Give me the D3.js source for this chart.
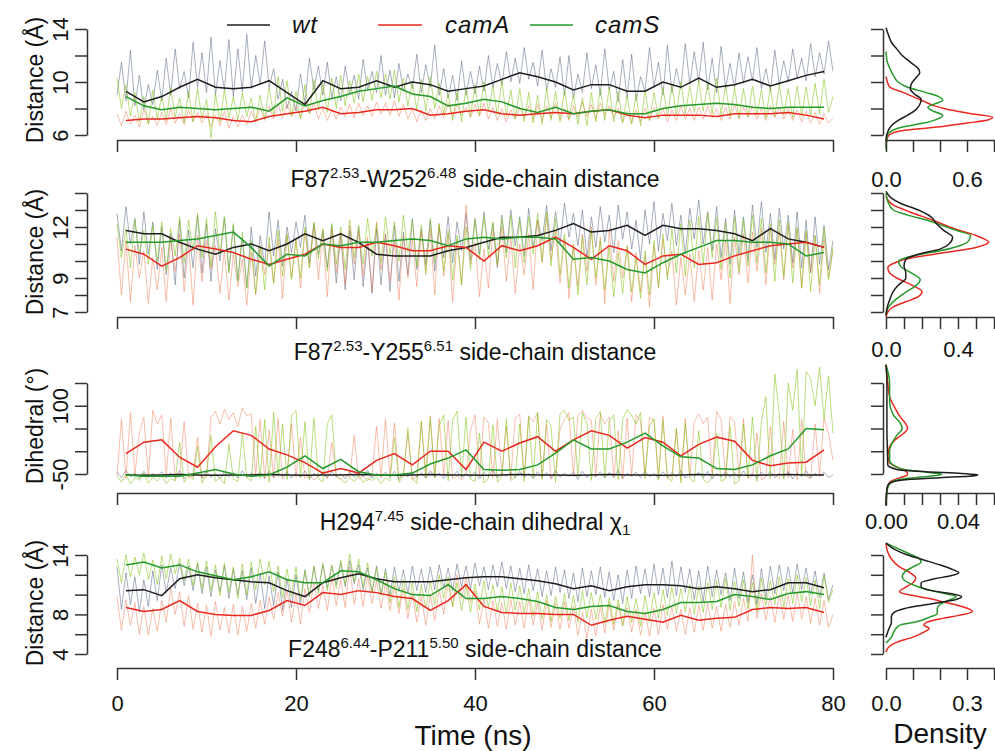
<!DOCTYPE html>
<html>
<head>
<meta charset="utf-8">
<script src="https://cdnjs.cloudflare.com/ajax/libs/d3/7.8.5/d3.min.js"></script>
<style>
  body { margin: 0; background: #fff; }
  text { font-family: "Liberation Sans", Arial, Helvetica, sans-serif; fill: #111; }
</style>
</head>
<body>
<div id="chart"></div>
<script>
// ---- data ----
const seriesNames = ["wt", "camA", "camS"];
const timeTicks = [0, 20, 40, 60, 80];
const rawStep = 0.5; // ns between raw samples
const smoothT = [1,3,5,7,9,11,13,15,17,19,21,23,25,27,29,31,33,35,37,39,41,43,45,47,49,51,53,55,57,59,61,63,65,67,69,71,73,75,77,79];

// F87-W252 distance
const wtDist1Raw = [9.0,11.5,8.6,12.4,8.2,10.5,7.9,9.8,8.3,10.9, 8.6,11.8,9.0,12.5,9.5,10.8,8.8,13.0,9.6,12.2,
  9.2,13.4,9.0,11.6,9.4,13.2,8.9,12.5,9.3,13.6, 9.5,12.0,9.8,13.1,9.6,11.0,8.7,10.2,8.0,9.3,
  7.8,10.6,8.4,11.8,9.4,11.2,9.0,11.5,8.8,10.4, 8.6,11.2,9.1,10.5,8.7,11.7,9.4,10.8,9.2,12.0,
  9.0,10.9,8.8,11.4,9.3,10.6,9.5,12.1,9.2,11.3, 9.6,12.8,9.0,11.0,8.8,10.5,8.6,11.6,9.0,10.8,
  9.1,11.2,9.3,12.0,9.6,11.4,9.8,12.3,10.0,11.8, 9.9,12.6,10.2,11.5,9.7,12.4,9.4,11.0,9.6,11.9,
  9.0,12.0,8.8,10.6,9.2,12.2,9.5,11.3,9.0,12.5, 9.4,10.8,8.5,11.7,8.8,12.1,8.6,10.4,9.3,12.6,
  9.6,11.5,9.0,12.8,9.2,11.0,9.5,12.9,9.8,12.3, 10.0,13.0,9.4,11.8,9.2,12.7,9.5,11.4,9.6,12.2,
  9.9,11.9,10.1,12.6,9.5,11.0,9.3,12.4,9.8,11.6, 10.0,12.5,10.3,11.8,10.1,12.9,10.4,12.2,10.6,13.1, 10.8];
const camADist1Raw = [7.6,6.7,7.8,6.8,7.5,6.6,7.9,6.9,7.4,6.7, 7.7,6.8,8.0,6.9,7.6,6.8,7.9,7.0,7.7,6.9,
  7.6,6.6,7.5,6.7,7.8,6.5,7.4,6.6,7.5,6.8, 7.8,7.0,8.1,7.1,8.2,7.2,8.4,7.3,8.3,7.4,
  8.2,7.3,8.5,7.6,8.4,7.2,8.0,7.1,7.9,7.2, 8.1,7.4,8.3,7.3,8.4,7.5,8.2,7.4,8.5,7.6,
  8.4,7.5,8.6,7.4,8.3,7.2,8.0,7.0,7.9,7.1, 8.0,7.2,8.2,7.3,8.4,7.4,8.3,7.5,8.1,7.3,
  8.3,7.4,8.4,7.2,8.1,7.1,8.0,7.0,7.9,7.2, 8.1,7.3,8.2,7.2,8.3,7.1,8.2,7.3,8.4,7.2,
  8.0,7.1,8.2,7.3,8.5,7.4,8.3,7.2,8.4,7.5, 8.2,7.3,8.0,7.0,7.8,6.9,7.9,7.0,8.0,7.1,
  8.1,7.2,8.0,7.0,7.9,7.1,8.2,7.2,8.0,7.1, 8.1,7.2,8.2,7.3,8.0,7.1,8.1,7.2,8.3,7.2,
  8.1,7.3,8.2,7.2,8.0,7.1,8.2,7.3,8.1,7.2, 8.0,7.1,7.9,7.0,7.8,6.9,7.7,6.8,7.6,6.9, 7.3];
const camSDist1Raw = [10.3,8.0,9.8,7.4,9.2,7.0,8.9,6.8,9.4,7.2, 9.0,7.1,9.6,7.3,8.8,6.9,9.3,7.0,9.5,7.2,
  8.7,5.8,9.1,7.0,9.4,7.3,8.9,7.1,9.2,7.4, 8.8,7.0,9.0,7.2,9.6,7.5,10.4,7.8,10.1,7.4,
  9.3,7.2,9.8,7.6,10.2,7.9,9.9,7.7,10.3,8.0, 10.5,8.2,10.1,8.4,10.6,8.5,10.4,8.6,10.8,8.8,
  10.6,8.7,10.9,8.5,10.3,8.2,10.0,7.9,10.2,7.8, 10.4,8.0,9.9,7.6,9.1,7.1,9.3,7.0,9.6,7.4,
  9.8,7.5,10.0,7.8,9.7,7.5,10.1,7.4,9.4,7.2, 9.5,7.0,9.2,6.9,9.0,6.8,9.6,7.1,9.3,7.0,
  9.4,7.2,9.1,6.8,8.8,6.7,9.2,7.0,9.5,7.1, 9.6,7.0,9.3,6.9,9.0,6.8,9.1,6.7,9.4,7.1,
  9.2,7.3,9.6,7.4,9.8,7.5,10.0,7.6,9.7,7.7, 10.1,7.8,9.9,7.6,10.3,7.5,9.8,7.4,9.6,7.3,
  9.5,7.4,9.7,7.5,9.4,7.3,9.6,7.4,9.8,7.5, 9.5,7.3,9.7,7.4,9.6,7.5,9.9,7.6,10.2,7.7, 8.9];
const wtDist1Smooth = [9.3,8.5,8.9,9.6,10.2,9.6,9.5,9.6,10.1,9.2, 8.3,10.1,9.5,9.6,10.1,9.6,10.0,9.8,9.3,9.5,
  9.7,10.2,10.7,10.4,10.0,9.4,9.8,9.8,9.3,9.3, 10.0,9.6,10.3,9.6,9.8,10.2,9.7,10.1,10.5,10.8];
const camADist1Smooth = [7.1,7.2,7.2,7.3,7.4,7.3,7.1,7.0,7.4,7.6, 7.8,8.1,7.6,7.7,7.9,7.9,8.0,7.5,7.6,7.8,
  7.9,7.6,7.5,7.6,7.7,7.6,7.8,7.9,7.5,7.3, 7.5,7.5,7.5,7.4,7.6,7.6,7.6,7.7,7.5,7.2];
const camSDist1Smooth = [8.9,8.2,7.9,8.1,8.0,7.9,8.0,8.1,7.8,8.8, 8.2,8.6,8.9,9.3,9.5,9.7,9.1,8.9,8.2,8.4,
  8.7,8.5,8.0,7.7,8.1,7.6,7.8,7.9,7.6,7.6, 8.0,8.2,8.3,8.4,8.3,8.1,8.0,8.1,8.1,8.1];

// F87-Y255 distance
const wtDist2Raw = [12.8,10.6,13.2,11.0,12.5,9.8,12.9,10.4,12.3,9.5, 12.0,9.2,11.6,8.6,12.4,9.0,11.8,9.6,12.7,9.3,
  12.2,8.8,11.9,10.0,12.6,9.4,12.1,8.9,11.4,8.4, 12.0,9.1,11.5,9.8,12.9,10.3,12.4,9.7,12.0,10.5,
  12.3,10.8,12.7,9.9,12.2,10.4,11.8,9.6,12.1,8.7, 11.5,8.3,11.8,8.9,12.0,8.5,11.2,8.1,11.9,8.6,
  11.6,8.2,12.1,8.8,11.7,9.2,12.5,9.5,11.9,9.8, 12.4,9.4,12.0,10.2,12.6,9.9,12.3,10.6,12.8,10.1,
  12.5,10.4,12.9,10.7,12.2,9.6,12.7,10.5,13.0,10.9, 12.6,10.3,13.1,10.8,12.4,11.2,13.3,10.6,12.9,11.0,
  13.4,11.4,12.8,10.9,13.0,10.2,12.6,10.8,13.2,11.1, 12.7,10.5,13.3,11.3,12.9,10.7,12.4,10.1,13.0,11.0,
  13.5,10.6,12.8,11.2,13.4,10.9,12.7,10.4,13.1,11.3, 13.6,11.0,12.9,10.6,13.2,10.2,12.5,9.8,13.0,10.4,
  12.6,10.0,13.3,10.8,13.5,10.5,12.8,10.1,13.1,10.7, 12.7,9.9,12.9,9.6,12.4,9.3,12.6,9.8,12.1,9.5, 11.2];
const camADist2Raw = [11.4,8.0,11.2,7.6,10.9,9.0,10.6,7.5,10.2,8.3, 10.8,7.6,11.3,9.4,11.6,8.2,11.1,7.4,11.5,8.8,
  11.2,9.5,10.9,8.1,10.6,7.7,10.4,8.5,10.1,7.4, 10.5,8.0,10.9,9.2,11.0,8.7,11.3,7.8,11.5,9.0,
  11.4,8.4,11.8,9.6,12.0,8.9,11.6,7.9,11.9,9.3, 11.7,8.6,12.1,9.8,11.8,9.1,11.4,8.2,12.3,9.5,
  11.6,8.8,11.2,7.7,11.5,9.0,11.3,8.5,11.7,9.4, 11.9,8.0,12.2,9.1,11.6,7.6,11.3,8.6,13.3,9.8,
  11.1,7.9,10.7,8.4,11.8,9.7,12.0,8.8,11.4,8.1, 11.0,9.2,11.6,8.3,12.4,9.9,12.6,10.1,11.8,8.7,
  11.3,7.8,10.9,8.5,11.6,9.4,12.0,8.6,11.4,7.5, 11.9,8.8,11.2,9.0,10.8,7.6,10.5,8.2,10.3,7.3,
  10.9,8.4,11.3,9.1,10.6,7.4,10.2,8.0,10.4,7.6, 10.6,8.3,10.8,7.7,11.0,8.9,11.2,7.5,11.4,9.2,
  11.6,8.7,11.7,9.4,11.9,8.6,12.0,9.8,11.8,8.9, 12.1,9.6,11.9,8.4,11.7,9.3,11.5,8.1,11.3,9.0, 10.6];
const camSDist2Raw = [12.2,10.2,11.9,9.6,12.4,10.5,11.8,9.8,12.1,10.0, 12.3,9.4,11.9,10.3,12.6,9.9,12.4,10.6,12.8,10.2,
  12.5,9.7,12.9,10.4,12.6,9.3,12.2,8.8,11.7,8.4, 11.2,8.1,10.9,8.3,11.4,8.7,11.8,9.1,11.6,8.9,
  11.2,9.0,12.0,9.6,12.3,10.1,11.9,9.4,12.2,9.8, 12.0,9.5,12.4,10.2,12.1,9.8,12.5,10.3,12.2,9.9,
  12.6,10.4,12.3,10.0,12.7,10.5,12.4,9.7,12.1,9.2, 12.5,9.9,12.2,9.4,11.8,8.9,11.5,8.6,12.0,9.5,
  12.4,10.1,12.6,10.3,12.3,9.8,12.5,10.2,12.7,9.6, 12.4,9.9,12.6,10.4,12.8,10.0,12.9,9.7,12.5,9.2,
  11.6,8.4,11.0,8.0,11.4,8.6,11.8,9.0,11.2,8.3, 10.8,7.9,10.5,8.1,10.9,8.2,10.3,7.8,10.6,8.0,
  11.2,8.5,11.6,8.9,11.9,9.3,12.2,9.1,12.4,9.6, 12.6,9.8,12.8,10.2,12.5,9.5,12.3,9.0,12.6,9.4,
  12.4,9.7,12.7,9.9,12.5,9.3,12.2,8.8,12.4,9.1, 12.3,8.7,12.0,8.4,11.8,8.2,11.5,8.6,11.9,8.9, 10.8];
const wtDist2Smooth = [11.8,11.6,11.6,11.1,10.7,10.4,10.8,11.0,10.6,11.0, 11.6,11.2,11.6,11.1,10.4,10.3,10.3,10.3,10.6,10.8,
  11.1,11.4,11.4,11.5,11.8,12.2,11.7,11.8,12.1,11.5, 12.1,11.9,11.9,11.8,11.6,11.2,11.9,11.3,11.1,10.8];
const camADist2Smooth = [10.7,10.4,9.7,10.2,10.9,10.7,10.5,10.1,9.8,10.1, 10.4,11.0,10.8,10.8,11.1,10.9,10.6,10.6,10.9,10.8,
  10.0,10.9,10.6,10.9,11.4,10.8,10.1,10.9,10.6,9.8, 10.3,10.4,9.8,9.9,10.3,10.6,10.9,11.0,11.1,10.8];
const camSDist2Smooth = [11.1,11.1,11.1,11.2,11.3,11.5,11.7,10.8,9.7,10.4, 10.3,11.0,10.9,11.1,11.1,11.2,11.3,11.2,10.9,11.3,
  11.4,11.3,11.4,11.4,11.3,10.1,10.2,10.0,9.5,9.3, 9.9,10.4,10.8,11.2,11.2,11.1,11.1,11.0,10.3,10.5];

// H294 chi1 dihedral
const wtChiRaw = [-46,-58,-42,-56,-48,-60,-44,-57,-49,-55, -45,-59,-47,-56,-43,-61,-48,-55,-46,-58,
  -44,-57,-49,-60,-45,-56,-47,-59,-43,-57, -48,-55,-46,-60,-44,-58,-49,-56,-45,-59,
  -47,-57,-43,-61,-48,-55,-46,-58,-44,-56, -49,-60,-45,-57,-47,-56,-42,-59,-48,-55,
  -46,-58,-44,-62,-49,-56,-45,-57,-47,-59, -43,-56,-48,-60,-46,-55,-44,-58,-49,-57,
  -45,-61,-47,-56,-40,-59,-48,-55,-46,-58, -44,-57,-49,-60,-45,-56,-47,-59,-43,-57,
  -48,-55,-46,-62,-44,-58,-49,-56,-45,-59, -47,-57,-41,-60,-48,-55,-46,-58,-44,-56,
  -49,-60,-45,-57,-47,-56,-43,-59,-48,-55, -46,-58,-44,-61,-49,-56,-45,-57,-47,-59,
  -43,-56,-48,-60,-46,-55,-44,-58,-49,-57, -45,-61,-47,-56,-43,-59,-48,-55,-46,-58, -52];
const camAChiRaw = [-55,70,-60,85,-52,40,75,-58,90,60, 80,-55,72,-62,-50,65,-58,-54,30,-60,
  -56,75,88,60,92,70,85,55,95,78, 82,-55,70,-60,45,-58,72,-62,-50,60,
  -57,30,-60,-52,-63,-55,-48,-60,20,-56, -62,-50,-58,35,-60,-54,-65,-52,55,-58,
  70,-55,62,-60,-52,40,-62,-57,65,-50, 78,-58,72,-54,68,-60,-55,-63,-50,45,
  80,-56,75,62,-58,70,-52,55,-60,72, 82,-55,76,65,85,-58,60,-62,-50,48,
  70,85,-56,78,90,72,68,-55,82,60, 75,-58,45,-60,72,-54,80,66,-52,74,
  68,-56,78,-60,-55,50,-62,72,-58,65, 82,60,75,-55,88,70,-58,76,64,-52,
  72,-60,-55,40,-62,-57,55,-50,-60,65, -58,48,-62,70,-55,-60,60,-52,72,38, -20];
const camSChiRaw = [-55,-68,-50,-72,-58,-64,-48,-70,-56,-66, -52,-71,-60,-65,20,-68,-54,-62,10,-70,
  -50,35,-66,-58,-72,15,-60,-67,40,-58, -65,55,-60,70,-68,85,-56,60,-62,78,
  90,-58,65,-64,72,-60,-68,60,80,-55, -62,-70,-58,-66,-52,-69,-60,-64,-56,-71,
  -58,-65,30,-68,-55,50,-62,-70,65,-60, 72,-58,55,80,-65,68,88,-56,75,-62,
  -66,40,-70,-60,58,-68,-55,70,-64,-58, 60,-66,78,-58,85,-62,70,55,-68,82,
  90,68,75,-56,85,60,-64,72,88,-58, 65,80,-62,70,92,78,60,85,-60,55,
  72,-64,68,-58,-66,50,-70,62,-60,-68, 45,-62,-70,-58,40,-66,-60,55,-72,-64,
  60,-58,75,-66,65,120,-60,170,80,-62, 150,90,180,-55,175,160,100,185,70,165, 40];
const wtChiSmooth = [-52,-53,-52,-51,-52,-53,-52,-52,-51,-52, -53,-52,-52,-51,-52,-53,-52,-51,-52,-52,
  -53,-52,-51,-52,-52,-53,-52,-51,-52,-52, -53,-52,-51,-52,-52,-53,-52,-51,-52,-52];
const camAChiSmooth = [-5,20,25,-13,-35,10,45,35,5,-8, -25,-48,-38,-48,-20,-5,-30,0,0,-40,
  20,0,18,32,0,25,45,35,7,30, 20,-10,15,31,22,-20,-32,-26,-24,3];
const camSChiSmooth = [-52,-55,-55,-55,-48,-40,-50,-55,-52,-35, -10,-38,-18,-45,-52,-52,-48,-28,-15,3,
  -40,-42,-40,-30,-4,25,5,5,20,40, 12,-12,-15,-38,-40,-30,-10,5,50,47];

// F248-P211 distance
const wtDist4Raw = [12.8,8.5,12.2,9.0,11.8,8.2,11.5,8.8,12.4,9.4, 13.0,10.2,12.7,10.6,13.2,10.9,12.9,10.4,13.1,10.1,
  12.8,9.8,12.5,10.3,12.9,9.6,12.6,10.0,12.4,9.5, 12.7,9.1,12.2,8.6,11.9,8.9,12.3,8.4,11.6,8.7,
  12.0,8.9,12.5,9.8,12.8,10.4,13.0,10.7,12.9,11.0, 13.2,10.8,13.4,11.1,13.0,10.5,12.7,10.2,12.9,10.0,
  12.6,9.9,12.8,10.3,12.5,10.1,12.9,10.4,12.6,10.2, 12.8,10.5,13.0,10.7,12.7,10.4,13.1,10.8,12.9,10.6,
  13.2,10.9,12.8,10.5,13.0,10.8,13.3,10.6,12.9,10.3, 12.7,10.1,13.0,10.4,12.6,9.8,12.4,9.9,12.8,10.2,
  12.5,9.6,12.2,9.3,12.7,9.8,12.4,10.0,12.8,9.7, 12.3,9.4,12.0,9.1,12.5,9.6,12.9,10.1,12.6,9.8,
  13.1,10.0,12.7,9.7,13.4,9.9,12.8,10.2,12.6,9.5, 12.4,9.3,12.9,9.8,12.5,10.0,12.2,9.4,12.7,9.6,
  12.3,9.2,12.0,9.0,12.6,9.7,12.9,10.1,13.0,10.4, 12.8,10.2,13.1,10.5,12.7,10.0,12.4,9.7,12.2,9.5, 11.0];
const camADist4Raw = [9.8,6.4,9.5,6.9,9.2,6.0,8.8,5.9,8.6,6.3, 9.4,7.2,10.6,8.0,10.3,6.8,9.9,6.5,9.1,6.2,
  8.9,5.8,9.3,6.4,8.7,6.1,9.0,5.9,8.8,6.3, 9.1,6.6,9.4,7.0,9.8,7.5,10.2,7.8,10.5,7.2,
  10.1,7.0,10.6,8.2,11.3,8.6,11.0,8.4,11.8,8.9, 11.5,8.7,12.8,9.0,11.6,8.8,11.9,9.1,11.4,8.6,
  11.2,8.4,10.9,8.1,10.6,7.6,10.2,7.2,9.8,6.9, 10.0,7.4,10.6,8.0,11.2,8.8,12.0,9.6,11.8,9.2,
  10.4,7.0,9.6,6.6,9.4,6.8,9.2,6.5,9.5,6.9, 9.3,6.6,9.6,6.9,9.2,6.4,9.4,6.7,9.1,6.5,
  9.3,6.6,8.8,5.9,8.2,5.6,8.5,5.8,8.9,6.1, 9.2,6.4,9.0,6.8,8.7,6.2,8.5,5.9,8.3,5.8,
  8.6,6.0,9.0,6.5,8.8,6.3,8.5,6.0,8.7,6.2, 8.9,6.4,9.1,6.6,8.8,6.3,9.0,6.7,9.3,6.9,
  9.6,7.3,14.0,7.6,10.1,7.4,9.8,7.2,10.0,7.5, 9.9,7.3,10.2,7.6,9.8,7.1,9.6,6.9,9.4,6.7, 8.0];
const camSDist4Raw = [13.6,11.2,14.0,11.8,13.8,12.0,14.2,11.5,13.5,11.0, 13.9,11.6,14.1,12.1,13.7,11.4,13.6,10.9,13.3,10.6,
  13.4,10.4,13.0,9.9,13.2,10.2,12.8,9.6,13.1,10.0, 13.3,10.5,13.6,11.0,13.4,10.3,12.9,9.7,12.6,9.8,
  12.8,9.5,12.4,9.8,12.9,10.1,13.2,10.4,13.0,10.6, 13.5,11.0,14.1,11.3,13.6,10.8,13.2,10.2,12.7,9.9,
  12.3,9.2,11.8,8.7,11.5,8.5,11.2,8.3,11.0,8.6, 11.3,9.0,12.0,9.6,11.8,8.8,11.2,8.4,10.9,8.2,
  11.1,8.5,11.4,8.7,11.0,8.3,10.8,8.0,11.2,8.4, 10.9,8.1,10.6,7.8,10.3,7.5,10.0,7.3,9.8,7.6,
  10.1,7.4,9.9,7.2,10.4,7.7,10.2,7.5,10.0,7.1, 9.7,7.0,9.5,6.9,9.8,7.2,9.6,6.8,9.9,7.3,
  10.2,7.6,10.5,7.9,10.8,8.1,10.6,8.3,11.0,8.0, 10.9,8.2,11.2,8.5,11.4,8.7,11.6,8.4,11.3,8.8,
  11.5,8.6,11.2,8.3,11.7,8.9,11.4,9.0,11.8,8.7, 11.6,9.1,12.0,9.3,11.7,8.9,11.5,8.6,11.9,9.2, 10.5];
const wtDist4Smooth = [10.4,10.5,9.9,11.6,12.0,11.7,11.5,11.3,11.2,10.4, 9.8,11.2,11.7,12.1,11.6,11.3,11.3,11.3,11.5,11.7,
  11.8,11.8,11.6,11.4,11.1,10.6,10.9,10.4,10.8,11.0, 11.0,10.9,10.6,10.8,10.6,10.3,10.5,11.2,11.2,10.7];
const camADist4Smooth = [8.7,8.3,8.5,9.4,8.3,8.0,7.9,7.9,8.4,9.4, 8.9,10.2,10.0,10.4,10.2,9.8,9.6,8.4,9.4,11.0,
  8.8,8.2,8.1,8.1,8.0,8.0,6.9,7.4,7.8,7.5, 7.2,7.9,7.4,7.6,7.7,8.5,8.7,8.6,8.7,8.2];
const camSDist4Smooth = [13.0,13.3,12.7,13.0,12.3,11.9,11.5,11.8,12.3,11.5, 11.2,11.2,12.4,12.3,11.5,10.6,10.0,9.9,11.0,9.6,
  9.6,9.8,9.6,9.3,8.7,8.5,8.8,8.9,8.3,8.1, 8.5,9.2,9.2,9.3,10.0,9.8,9.5,10.1,10.3,10.0];

// densities: [value, density]
const wtDens1 = [[14.1,0],[13.5,0.02],[13,0.04],[12.5,0.08],[12,0.12],[11.5,0.18],[11,0.24],[10.7,0.25],[10.3,0.22],[9.9,0.19],[9.5,0.18],[9.1,0.21],[8.7,0.26],[8.3,0.25],[7.9,0.22],[7.5,0.16],[7.1,0.09],[6.7,0.04],[6.3,0.015],[5.9,0.003],[5.5,0]];
const camADens1 = [[10.4,0],[10,0.01],[9.6,0.03],[9.2,0.13],[8.8,0.22],[8.5,0.29],[8.2,0.36],[7.9,0.47],[7.6,0.63],[7.35,0.79],[7.15,0.76],[6.9,0.6],[6.6,0.38],[6.35,0.14],[6.1,0.04],[5.8,0.01],[5.2,0]];
const camSDens1 = [[12.3,0],[11.5,0.01],[11,0.03],[10.4,0.06],[10,0.09],[9.6,0.16],[9.2,0.3],[8.9,0.39],[8.6,0.42],[8.35,0.36],[8.1,0.31],[7.8,0.35],[7.5,0.42],[7.2,0.38],[6.9,0.28],[6.6,0.12],[6.3,0.04],[6,0.01],[5.5,0.003],[4.9,0]];
const wtDens2 = [[14.1,0],[13.7,0.03],[13.4,0.08],[13,0.18],[12.6,0.25],[12.2,0.28],[11.8,0.32],[11.4,0.37],[11,0.35],[10.7,0.3],[10.4,0.18],[10.1,0.11],[9.7,0.1],[9.3,0.11],[9,0.11],[8.6,0.07],[8.2,0.04],[7.7,0.02],[7.2,0.005],[6.8,0]];
const camADens2 = [[13.8,0],[13.3,0.04],[12.9,0.13],[12.4,0.26],[11.9,0.38],[11.5,0.5],[11.1,0.57],[10.8,0.5],[10.5,0.33],[10.2,0.15],[9.9,0.05],[9.6,0.01],[9.3,0.02],[9,0.06],[8.6,0.14],[8.2,0.2],[7.9,0.18],[7.6,0.11],[7.3,0.04],[7,0.01],[6.7,0]];
const camSDens2 = [[14,0],[13.5,0.01],[13,0.04],[12.7,0.12],[12.4,0.23],[12.1,0.31],[11.8,0.39],[11.5,0.47],[11.2,0.46],[10.9,0.41],[10.6,0.3],[10.3,0.15],[10,0.07],[9.7,0.08],[9.3,0.14],[8.9,0.19],[8.5,0.16],[8.1,0.1],[7.7,0.05],[7.3,0.015],[6.9,0]];
const wtDens3 = [[190,0],[150,0.0005],[100,0.0005],[50,0.0005],[0,0.0008],[-30,0.001],[-40,0.006],[-45,0.022],[-49,0.042],[-52,0.051],[-55,0.046],[-58,0.03],[-62,0.012],[-67,0.004],[-75,0.001],[-90,0.0003],[-120,0]];
const camADens3 = [[190,0],[150,0.001],[120,0.002],[95,0.005],[75,0.008],[60,0.011],[50,0.012],[40,0.01],[25,0.005],[10,0.002],[-10,0.001],[-25,0.002],[-35,0.006],[-44,0.011],[-51,0.012],[-58,0.008],[-65,0.003],[-75,0.001],[-95,0.0003],[-120,0]];
const camSDens3 = [[190,0],[150,0.002],[110,0.002],[80,0.004],[62,0.008],[50,0.009],[35,0.006],[15,0.003],[0,0.002],[-20,0.002],[-35,0.006],[-42,0.013],[-47,0.025],[-51,0.031],[-55,0.024],[-61,0.009],[-68,0.003],[-80,0.001],[-100,0.0003],[-120,0]];
const wtDens4 = [[15.2,0],[14.6,0.03],[14,0.08],[13.5,0.14],[13,0.2],[12.5,0.25],[12.2,0.27],[11.9,0.24],[11.6,0.18],[11.2,0.13],[10.8,0.13],[10.4,0.17],[10.1,0.24],[9.8,0.28],[9.5,0.26],[9.2,0.2],[8.9,0.13],[8.6,0.07],[8.2,0.03],[7.8,0.02],[7.2,0.02],[6.5,0.01],[5.7,0]];
const camADens4 = [[15.2,0],[14.4,0.005],[13.6,0.02],[12.8,0.05],[12.2,0.09],[11.7,0.11],[11.2,0.1],[10.7,0.07],[10.3,0.05],[9.9,0.1],[9.6,0.16],[9.2,0.22],[8.8,0.28],[8.3,0.32],[7.9,0.27],[7.6,0.21],[7.2,0.15],[6.9,0.14],[6.6,0.16],[6.2,0.14],[5.7,0.1],[5.2,0.04],[4.7,0.01],[4.2,0]];
const camSDens4 = [[15.2,0],[14.7,0.04],[14.2,0.08],[13.7,0.12],[13.3,0.13],[12.8,0.1],[12.3,0.07],[11.8,0.06],[11.4,0.07],[11,0.1],[10.6,0.14],[10.2,0.2],[9.8,0.26],[9.4,0.23],[9,0.2],[8.6,0.19],[8.1,0.19],[7.7,0.16],[7.3,0.12],[6.9,0.05],[6.3,0.03],[5.7,0.02],[5.1,0]];

// axis ticks / labels
const dist1Ticks = [6,8,10,12,14], dist1Labels = [6,10,14];
const dist2Ticks = [7,8,9,10,11,12,13,14], dist2Labels = [7,9,12];
const chiTicks = [-50,0,50,100,150], chiLabels = [-50,100];
const dist4Ticks = [4,6,8,10,12,14], dist4Labels = [4,8,14];
const dens1Ticks = [0,0.2,0.4,0.6,0.8], dens1Labels = [0,0.6];
const dens2Ticks = [0,0.1,0.2,0.3,0.4,0.5,0.6], dens2Labels = [0,0.4];
const dens3Ticks = [0,0.01,0.02,0.03,0.04,0.05,0.06], dens3Labels = [0,0.04];
const dens4Ticks = [0,0.1,0.2,0.3,0.4], dens4Labels = [0,0.3];

// ---- drawing ----
const W = 995, H = 751;
const rawColors = ["rgba(95,110,135,0.55)", "rgba(240,110,70,0.45)", "rgba(130,195,20,0.55)"];
const lineColors = ["#1e1e1e", "#e8281e", "#25992a"];
const axisColor = "#333";

const rows = [
  { yDomain: [6, 14], yRange: [135, 29], yTicks: dist1Ticks, yLabels: dist1Labels, axisY: 140,
    ylab: "Distance (Å)", ylabY: 80, titleY: 187, labY: 187,
    title: [["F87", 0], ["2.53", 1], ["-W252", 0], ["6.48", 1], [" side-chain distance", 0]],
    raw: [wtDist1Raw, camADist1Raw, camSDist1Raw], smooth: [wtDist1Smooth, camADist1Smooth, camSDist1Smooth],
    dens: [wtDens1, camADens1, camSDens1], dDomain: [0, 0.8], dTicks: dens1Ticks, dLabels: dens1Labels, dFmt: ".1f" },
  { yDomain: [7, 14], yRange: [312, 193], yTicks: dist2Ticks, yLabels: dist2Labels, axisY: 317,
    ylab: "Distance (Å)", ylabY: 252, titleY: 360, labY: 357,
    title: [["F87", 0], ["2.53", 1], ["-Y255", 0], ["6.51", 1], [" side-chain distance", 0]],
    raw: [wtDist2Raw, camADist2Raw, camSDist2Raw], smooth: [wtDist2Smooth, camADist2Smooth, camSDist2Smooth],
    dens: [wtDens2, camADens2, camSDens2], dDomain: [0, 0.6], dTicks: dens2Ticks, dLabels: dens2Labels, dFmt: ".1f" },
  { yDomain: [-50, 150], yRange: [474, 383], yTicks: chiTicks, yLabels: chiLabels, axisY: 493,
    ylab: "Dihedral (°)", ylabY: 426, titleY: 530, labY: 529,
    title: [["H294", 0], ["7.45", 1], [" side-chain dihedral χ", 0], ["1", -1]],
    raw: [wtChiRaw, camAChiRaw, camSChiRaw], smooth: [wtChiSmooth, camAChiSmooth, camSChiSmooth],
    dens: [wtDens3, camADens3, camSDens3], dDomain: [0, 0.06], dTicks: dens3Ticks, dLabels: dens3Labels, dFmt: ".2f" },
  { yDomain: [4, 14], yRange: [654, 555], yTicks: dist4Ticks, yLabels: dist4Labels, axisY: 668,
    ylab: "Distance (Å)", ylabY: 603, titleY: 657, labY: 711,
    title: [["F248", 0], ["6.44", 1], ["-P211", 0], ["5.50", 1], [" side-chain distance", 0]],
    raw: [wtDist4Raw, camADist4Raw, camSDist4Raw], smooth: [wtDist4Smooth, camADist4Smooth, camSDist4Smooth],
    dens: [wtDens4, camADens4, camSDens4], dDomain: [0, 0.4], dTicks: dens4Ticks, dLabels: dens4Labels, dFmt: ".1f",
    xLabels: true }
];

const svg = d3.select("#chart").append("svg")
  .attr("width", W).attr("height", H)
  .style("display", "block");

const x = d3.scaleLinear().domain([0, 80]).range([117, 833]);

function styleAxis(g) {
  g.selectAll("path.domain").attr("stroke", axisColor).attr("stroke-width", 1.5);
  g.selectAll(".tick line").attr("stroke", axisColor).attr("stroke-width", 1.5);
  g.selectAll(".tick text").style("font-size", "22px").attr("fill", "#111");
}

function rotateYLabels(g) {
  g.selectAll(".tick text")
    .attr("transform", "rotate(-90)")
    .attr("x", 0).attr("y", -19).attr("dy", 0)
    .style("text-anchor", "middle");
}

rows.forEach((row, ri) => {
  const y = d3.scaleLinear().domain(row.yDomain).range(row.yRange);

  // raw traces
  row.raw.forEach((vals, si) => {
    const line = d3.line().x((d, i) => x(i * rawStep)).y(d => y(d));
    svg.append("path").datum(vals)
      .attr("fill", "none").attr("stroke", rawColors[si]).attr("stroke-width", 1)
      .attr("d", line);
  });
  // running averages
  row.smooth.forEach((vals, si) => {
    const line = d3.line().x((d, i) => x(smoothT[i])).y(d => y(d));
    svg.append("path").datum(vals)
      .attr("fill", "none").attr("stroke", lineColors[si]).attr("stroke-width", 1.5)
      .attr("d", line);
  });

  // y axis
  const ya = svg.append("g").attr("transform", "translate(87,0)")
    .call(d3.axisLeft(y).tickValues(row.yTicks).tickSize(12).tickSizeOuter(0)
      .tickFormat(d => row.yLabels.includes(d) ? d : ""));
  styleAxis(ya);
  rotateYLabels(ya);

  svg.append("text")
    .attr("transform", `translate(43,${row.ylabY}) rotate(-90)`)
    .style("text-anchor", "middle").style("font-size", "23px")
    .text(row.ylab);

  // x axis
  const xa = svg.append("g").attr("transform", `translate(0,${row.axisY})`)
    .call(d3.axisBottom(x).tickValues(timeTicks).tickSize(12).tickSizeOuter(0)
      .tickFormat(d => row.xLabels ? d : ""));
  styleAxis(xa);
  xa.selectAll(".tick text").attr("y", row.labY - row.axisY).attr("dy", 0);

  // panel title
  const tt = svg.append("text")
    .attr("x", 475).attr("y", row.titleY)
    .style("text-anchor", "middle").style("font-size", "23px");
  let shift = 0;
  row.title.forEach(([s, k]) => {
    const target = k === 1 ? -9 : (k === -1 ? 5 : 0);
    tt.append("tspan")
      .attr("dy", target - shift)
      .style("font-size", k === 0 ? "23px" : "15px")
      .text(s);
    shift = target;
  });

  // density panel
  const dx = d3.scaleLinear().domain(row.dDomain).range([886, 994]);
  [1, 2, 0].forEach(si => {
    const line = d3.line().x(d => dx(d[1])).y(d => y(d[0])).curve(d3.curveMonotoneY);
    svg.append("path").datum(row.dens[si])
      .attr("fill", "none").attr("stroke", lineColors[si]).attr("stroke-width", 1.5)
      .attr("d", line);
  });
  const dya = svg.append("g").attr("transform", "translate(883,0)")
    .call(d3.axisLeft(y).tickValues(row.yTicks).tickSize(12).tickSizeOuter(0).tickFormat(""));
  styleAxis(dya);
  const fmt = d3.format(row.dFmt);
  const dxa = svg.append("g").attr("transform", `translate(0,${row.axisY})`)
    .call(d3.axisBottom(dx).tickValues(row.dTicks).tickSize(12).tickSizeOuter(0)
      .tickFormat(d => row.dLabels.includes(d) ? fmt(d) : ""));
  styleAxis(dxa);
  dxa.selectAll(".tick text").attr("y", row.labY - row.axisY).attr("dy", 0);
});

// legend
const legendX = [[227, 270, 292], [378, 422, 445], [530, 573, 595]];
seriesNames.forEach((name, i) => {
  const [x1, x2, tx] = legendX[i];
  svg.append("line").attr("x1", x1).attr("x2", x2).attr("y1", 25).attr("y2", 25)
    .attr("stroke", lineColors[i]).attr("stroke-width", 1.5);
  svg.append("text").attr("x", tx).attr("y", 33)
    .style("font-size", "24px").style("font-style", "italic").style("letter-spacing", "1px")
    .text(name);
});

// axis titles
svg.append("text").attr("x", 473).attr("y", 745)
  .style("text-anchor", "middle").style("font-size", "28px").text("Time (ns)");
svg.append("text").attr("x", 940).attr("y", 743)
  .style("text-anchor", "middle").style("font-size", "28px").text("Density");
</script>
</body>
</html>
